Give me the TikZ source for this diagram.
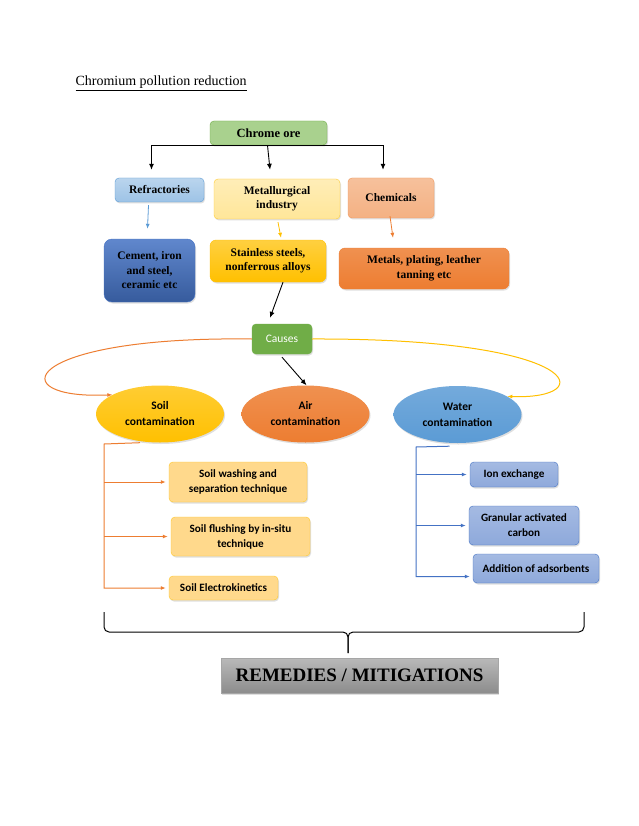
\documentclass[tikz,border=0pt]{standalone}
\usepackage{fontspec}
\setmainfont{Liberation Serif}
\newfontfamily\calibri{Carlito}
\usetikzlibrary{arrows.meta,shapes.geometric,shadows}

\definecolor{oreGreen}{HTML}{A9D18E}
\definecolor{darkGreen}{HTML}{70AD47}
\definecolor{lightBlue}{HTML}{9DC3E6}
\definecolor{midBlue}{HTML}{5B9BD5}
\definecolor{darkBlue}{HTML}{4472C4}
\definecolor{lightGold}{HTML}{FFE699}
\definecolor{gold}{HTML}{FFC000}
\definecolor{salmon}{HTML}{F4B183}
\definecolor{orange}{HTML}{ED7D31}
\definecolor{paleOrange}{HTML}{FFD98C}
\definecolor{lavBlue}{HTML}{8EA9DB}

\begin{document}
\begin{tikzpicture}[x=1pt, y=-1pt,
  box/.style={rounded corners=4pt, align=center, inner sep=1pt, font=\bfseries\fontsize{11.5}{14.5}\selectfont, drop shadow={opacity=0.25, shadow xshift=1pt, shadow yshift=-1.5pt}},
  sbox/.style={box, font=\calibri\bfseries\fontsize{11.2}{15}\selectfont},
  blob/.style={ellipse, inner sep=0pt, minimum width=128pt, minimum height=57pt, align=center, font=\calibri\bfseries\fontsize{11.5}{16}\selectfont, drop shadow={opacity=0.25, shadow xshift=1pt, shadow yshift=-1.5pt}},
  arrow/.style={-{Latex[length=6pt,width=5pt]}, line width=0.9pt},
  oarrow/.style={-{Latex[length=5pt,width=4pt]}, line width=1pt, draw=orange},
  barrow/.style={-{Latex[length=5pt,width=4pt]}, line width=1pt, draw=darkBlue}
]
  \fill[white] (0,0) rectangle (638,826);
  \useasboundingbox (0,0) rectangle (638,826);

  \node[anchor=west, font=\fontsize{14}{16}\selectfont] (title) at (72,83) {\underline{Chromium pollution reduction}};

  % ore and uses
  \node[box, draw=darkGreen, fill=oreGreen, minimum width=117pt, minimum height=24pt, font=\bfseries\fontsize{12.5}{14}\selectfont] (ore) at (268.5,133) {Chrome ore};
  \node[box, draw=midBlue, top color=lightBlue!70, bottom color=lightBlue, minimum width=89pt, minimum height=24pt] (refr) at (159.5,190) {Refractories};
  \node[box, draw=gold!80, top color=lightGold!70, bottom color=lightGold, minimum width=126pt, minimum height=40pt] (metal) at (277,199) {Metallurgical\\industry};
  \node[box, draw=orange!80, top color=salmon!80, bottom color=salmon, minimum width=86pt, minimum height=40pt] (chem) at (391,198) {Chemicals};

  \node[box, draw=darkBlue, top color=darkBlue!85, bottom color=darkBlue!80!black, minimum width=91pt, minimum height=63pt, rounded corners=8pt] (cement) at (149.5,270.5) {Cement, iron\\and steel,\\ceramic etc};
  \node[box, draw=gold, top color=gold!75, bottom color=gold, minimum width=116pt, minimum height=42pt, rounded corners=6pt] (steel) at (268,261) {Stainless steels,\\nonferrous alloys};
  \node[box, draw=orange, top color=orange!85, bottom color=orange, minimum width=170pt, minimum height=41pt, rounded corners=6pt] (metals) at (424,268.5) {Metals, plating, leather\\tanning etc};

  % causes
  \node[box, draw=darkGreen, fill=darkGreen, text=white, minimum width=60pt, minimum height=30pt, font=\calibri\fontsize{11.5}{13}\selectfont] (causes) at (282,339) {Causes};
  \node[blob, top color=gold!80, bottom color=gold] (soil) at (160,414) {Soil\\contamination};
  \node[blob, top color=orange!85, bottom color=orange] (air) at (305.5,414) {Air\\contamination};
  \node[blob, top color=midBlue!85, bottom color=midBlue] (water) at (457.5,414.5) {Water\\contamination};

  % remedies for soil
  \node[sbox, draw=gold!85, fill=paleOrange, minimum width=138pt, minimum height=40pt] (wash) at (238,482) {Soil washing and\\separation technique};
  \node[sbox, draw=gold!85, fill=paleOrange, minimum width=139pt, minimum height=39pt] (flush) at (240.5,536.5) {Soil flushing by in-situ\\technique};
  \node[sbox, draw=gold!85, fill=paleOrange, minimum width=109pt, minimum height=24pt] (elec) at (223.5,588) {Soil Electrokinetics};

  % remedies for water
  \node[sbox, draw=darkBlue, top color=lavBlue!80, bottom color=lavBlue, minimum width=88pt, minimum height=25pt] (ion) at (514,474.5) {Ion exchange};
  \node[sbox, draw=darkBlue, top color=lavBlue!80, bottom color=lavBlue, minimum width=110pt, minimum height=39pt] (gac) at (524,525.5) {Granular activated\\carbon};
  \node[sbox, draw=darkBlue, top color=lavBlue!80, bottom color=lavBlue, minimum width=126pt, minimum height=29pt] (ads) at (536,568.5) {Addition of adsorbents};

  \node[box, rounded corners=0pt, draw=gray!70, top color=gray!55, bottom color=gray!90, minimum width=277pt, minimum height=35pt, font=\bfseries\fontsize{19}{21}\selectfont] (rem) at (359.5,675.5) {REMEDIES / MITIGATIONS};

  % connectors
  \draw[arrow, shorten >=8pt] (ore.south) -| ([xshift=-8pt]refr.north);
  \draw[arrow, shorten >=8pt] (ore.south) -| ([xshift=-8pt]chem.north);
  \draw[arrow] ([xshift=-1pt]ore.south) -- ([xshift=-7pt, yshift=9pt]metal.north);
  \draw[-{Latex[length=5pt,width=4pt]}, line width=0.8pt, midBlue] ([xshift=-11pt, yshift=-3pt]refr.south) -- ([xshift=-2pt, yshift=10pt]cement.north);
  \draw[-{Latex[length=5pt,width=4pt]}, line width=0.8pt, gold] ([xshift=1pt, yshift=-3pt]metal.south) -- ([xshift=13pt, yshift=2pt]steel.north);
  \draw[-{Latex[length=5pt,width=4pt]}, line width=0.8pt, orange] ([xshift=-1pt, yshift=2pt]chem.south) -- ([xshift=-31pt, yshift=10pt]metals.north);
  \draw[arrow] ([xshift=15pt]steel.south) -- ([xshift=-12pt, yshift=6pt]causes.north);
  \draw[arrow] ([yshift=-3pt]causes.south) -- ([xshift=1pt]air.north);
  \draw[oarrow] (causes.west) .. controls (20,336) and (0,400) .. (soil.158);
  \draw[-{Latex[length=5pt,width=4pt]}, line width=1pt, gold] (causes.east) .. controls (585,338) and (600,400) .. (water.20);

  % soil branch
  \coordinate (sx) at (104,444);
  \draw[oarrow, shorten >=3pt] ([xshift=-20pt]soil.south) -- (sx) |- (elec.west);
  \draw[oarrow, shorten >=3pt] (sx |- wash.west) -- (wash.west);
  \draw[oarrow, shorten >=3pt] (sx |- flush.west) -- (flush.west);

  % water branch
  \coordinate (wx) at (416,447);
  \draw[barrow, shorten >=3pt] ([xshift=-8pt, yshift=-3pt]water.south) -- (wx) |- ([yshift=-8pt]ads.west);
  \draw[barrow, shorten >=3pt] (wx |- ion.west) -- (ion.west);
  \draw[barrow, shorten >=3pt] (wx |- gac.west) -- (gac.west);

  % brace
  \coordinate (bl) at (104,612);
  \coordinate (br) at (584,612);
  \coordinate (bm) at (348,632);
  \coordinate (btip) at (348,653);
  \draw[line width=1pt, rounded corners=5pt] (bl) |- (bm) -- (btip);
  \draw[line width=1pt, rounded corners=5pt] (br) |- (bm) -- (btip);
\end{tikzpicture}
\end{document}
